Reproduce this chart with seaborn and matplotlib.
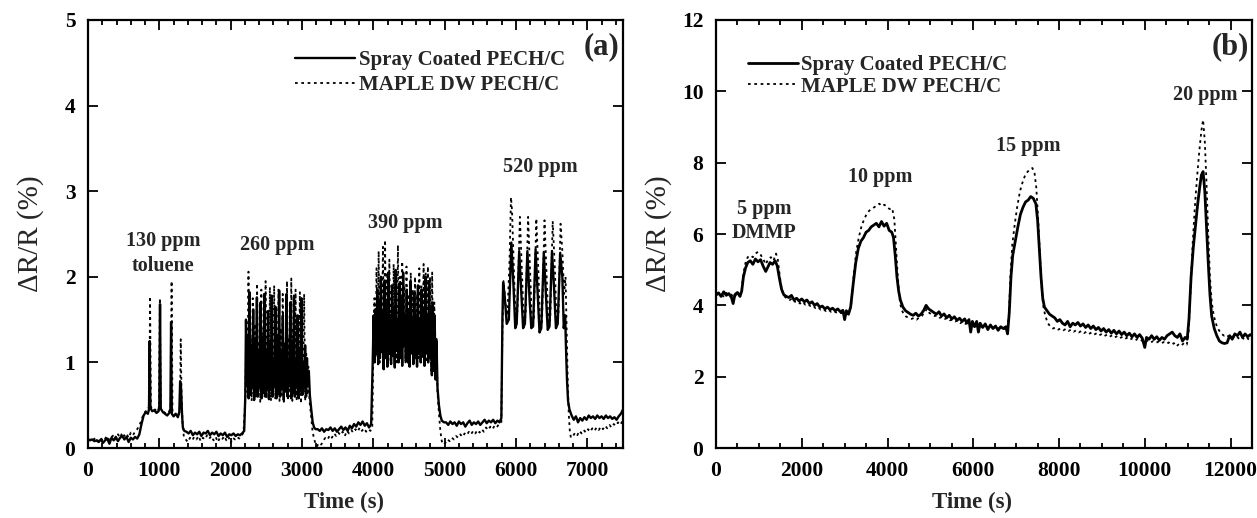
import matplotlib
matplotlib.use("Agg")
import matplotlib.pyplot as plt
import seaborn as sns
import pandas as pd
from matplotlib.ticker import MultipleLocator

# ---------------- Panel (a): toluene ----------------
spray_a = [
    (0,0.10),(30,0.09),(60,0.10),(90,0.08),(120,0.09),(150,0.07),(180,0.10),(210,0.06),(240,0.09),(270,0.11),
    (300,0.05),(330,0.12),(360,0.09),(390,0.13),(420,0.08),(450,0.12),(480,0.14),(510,0.10),(540,0.13),(570,0.07),
    (600,0.12),(630,0.10),(660,0.13),(690,0.11),(720,0.16),
    (750,0.28),(780,0.38),(810,0.42),(840,0.40),(855,0.45),(865,1.25),(875,0.47),(900,0.43),(930,0.44),(960,0.41),
    (990,0.43),(1000,0.50),(1010,1.68),(1020,0.46),(1050,0.42),(1080,0.40),(1110,0.38),(1140,0.41),(1155,0.45),
    (1165,1.47),(1175,0.40),(1200,0.37),(1230,0.40),(1260,0.36),(1280,0.42),(1292,0.78),(1305,0.70),(1318,0.40),
    (1330,0.24),(1350,0.20),
    (1380,0.19),(1410,0.17),(1440,0.20),(1470,0.15),(1500,0.18),(1530,0.16),(1560,0.19),(1590,0.14),(1620,0.18),
    (1650,0.17),(1680,0.20),(1710,0.15),(1740,0.18),(1770,0.16),(1800,0.19),(1830,0.14),(1860,0.17),(1890,0.15),
    (1920,0.18),(1950,0.13),(1980,0.16),(2010,0.15),(2040,0.17),(2070,0.14),(2100,0.16),(2130,0.15),(2160,0.17),
    (2190,0.20),
    (2205,0.60),(2215,1.50),(2228,0.75),(2240,1.30),(2252,0.58),(2265,1.82),(2278,0.62),(2290,1.20),(2303,0.70),
    (2316,1.62),(2329,0.56),(2342,1.28),(2355,0.66),(2368,1.76),(2381,0.60),(2394,1.10),(2407,0.72),(2420,1.70),
    (2433,0.58),(2446,1.30),(2459,0.64),(2472,1.80),(2485,0.60),(2498,1.15),(2511,0.70),(2524,1.60),(2537,0.57),
    (2550,1.25),(2563,0.68),(2576,1.78),(2589,0.60),(2602,1.05),(2615,0.72),(2628,1.65),(2641,0.58),(2654,1.30),
    (2667,0.63),(2680,1.84),(2693,0.60),(2706,1.10),(2719,0.70),(2732,1.55),(2745,0.56),(2758,1.20),(2771,0.66),
    (2784,1.80),(2797,0.60),(2810,1.00),(2823,0.72),(2836,1.70),(2849,0.58),(2862,1.25),(2875,0.64),(2888,1.78),
    (2901,0.60),(2914,1.05),(2927,0.70),(2940,1.55),(2953,0.58),(2966,1.15),(2979,0.66),(2992,1.75),(3005,0.62),
    (3018,1.00),(3031,0.70),(3044,1.20),(3057,0.60),(3070,1.05),(3083,0.75),(3096,0.90),(3110,0.62),(3130,0.45),
    (3150,0.30),(3170,0.24),(3190,0.22),
    (3220,0.22),(3250,0.20),(3280,0.23),(3310,0.19),(3340,0.22),(3370,0.21),(3400,0.24),(3430,0.20),(3460,0.23),
    (3490,0.19),(3520,0.22),(3550,0.25),(3580,0.21),(3610,0.24),(3640,0.20),(3670,0.26),(3700,0.23),(3730,0.28),
    (3760,0.25),(3790,0.30),(3820,0.27),(3850,0.31),(3880,0.26),(3910,0.29),(3940,0.24),(3970,0.28),
    (3990,0.95),(4005,1.55),(4018,1.00),(4030,1.62),(4042,1.10),(4055,1.85),(4068,0.98),(4080,1.70),(4093,1.05),
    (4106,2.00),(4119,1.12),(4132,1.60),(4145,0.92),(4158,1.95),(4171,1.05),(4184,1.70),(4197,0.95),(4210,2.05),
    (4223,1.10),(4236,1.55),(4249,0.98),(4262,1.90),(4275,1.08),(4288,1.65),(4301,0.94),(4314,2.08),(4327,1.15),
    (4340,1.50),(4353,1.00),(4366,1.92),(4379,1.05),(4392,1.75),(4405,0.96),(4418,2.05),(4431,1.20),(4444,1.55),
    (4457,1.02),(4470,1.85),(4483,1.00),(4496,1.60),(4509,0.95),(4522,1.95),(4535,1.12),(4548,1.50),(4561,0.98),
    (4574,1.80),(4587,1.05),(4600,1.55),(4613,0.95),(4626,1.90),(4639,1.10),(4652,1.48),(4665,1.00),(4678,1.85),
    (4691,1.08),(4704,1.60),(4717,0.96),(4730,2.00),(4743,1.12),(4756,1.55),(4769,1.00),(4782,1.95),(4795,1.05),
    (4808,1.65),(4821,0.85),(4834,1.70),(4847,0.90),(4860,1.55),(4873,0.80),(4886,1.25),(4900,0.70),(4920,0.50),
    (4940,0.38),(4960,0.32),(4990,0.30),
    (5020,0.30),(5050,0.27),(5080,0.31),(5110,0.28),(5140,0.30),(5170,0.26),(5200,0.31),(5230,0.28),(5260,0.30),
    (5290,0.25),(5320,0.29),(5350,0.32),(5380,0.27),(5410,0.30),(5440,0.28),(5470,0.31),(5500,0.27),(5530,0.30),
    (5560,0.33),(5590,0.29),(5620,0.32),(5650,0.30),(5680,0.33),(5710,0.29),(5740,0.32),(5770,0.30),(5795,0.35),
    (5810,1.50),(5820,1.93),(5840,1.80),(5870,1.45),(5900,1.50),(5935,2.40),(5965,1.90),(5990,1.40),(6010,1.45),
    (6045,2.30),(6075,1.80),(6100,1.40),(6125,1.45),(6160,2.30),(6190,1.75),(6215,1.40),(6240,1.42),(6275,2.32),
    (6305,1.80),(6330,1.35),(6355,1.40),(6390,2.28),(6420,1.80),(6445,1.38),(6470,1.42),(6505,2.30),(6535,1.85),
    (6560,1.40),(6585,1.45),(6620,2.28),(6650,2.00),(6670,1.40),(6690,1.55),(6700,1.20),(6715,0.80),(6730,0.55),
    (6750,0.45),
    (6780,0.38),(6810,0.33),(6840,0.37),(6870,0.30),(6900,0.35),(6930,0.32),(6960,0.36),(6990,0.33),(7020,0.38),
    (7050,0.35),(7080,0.37),(7110,0.34),(7140,0.38),(7170,0.35),(7200,0.37),(7230,0.34),(7260,0.38),(7290,0.35),
    (7320,0.37),(7350,0.34),(7380,0.36),(7410,0.33),(7440,0.37),(7470,0.40),(7500,0.45),
]

maple_a = [
    (0,0.09),(30,0.10),(60,0.08),(90,0.11),(120,0.07),(150,0.10),(180,0.12),(210,0.08),(240,0.11),(270,0.14),
    (300,0.09),(330,0.13),(360,0.15),(390,0.10),(420,0.16),(450,0.12),(480,0.18),(510,0.14),(540,0.17),(570,0.12),
    (600,0.18),(630,0.15),(660,0.19),(690,0.22),(720,0.26),
    (750,0.33),(780,0.40),(810,0.43),(840,0.44),(860,0.50),(870,1.77),(882,0.48),(910,0.44),(940,0.45),(970,0.42),
    (995,0.46),(1008,1.75),(1020,0.45),(1050,0.43),(1080,0.41),(1110,0.40),(1140,0.43),(1160,0.48),(1172,1.95),
    (1185,0.42),(1210,0.38),(1240,0.41),(1270,0.39),(1290,0.45),(1300,1.27),(1312,0.60),(1325,0.30),(1345,0.12),
    (1370,0.10),(1400,0.07),(1430,0.12),(1460,0.09),(1490,0.13),(1520,0.10),(1550,0.14),(1580,0.08),(1610,0.12),
    (1640,0.10),(1670,0.15),(1700,0.11),(1730,0.14),(1760,0.09),(1790,0.13),(1820,0.07),(1850,0.12),(1880,0.10),
    (1910,0.14),(1940,0.09),(1970,0.13),(2000,0.06),(2030,0.12),(2060,0.10),(2090,0.13),(2120,0.11),(2150,0.14),
    (2180,0.18),
    (2205,0.55),(2220,1.40),(2235,0.65),(2250,2.06),(2265,0.70),(2280,1.30),(2295,0.55),(2310,1.75),(2325,0.62),
    (2340,1.45),(2355,0.58),(2370,1.92),(2385,0.66),(2400,1.25),(2415,0.54),(2430,1.85),(2445,0.60),(2460,1.40),
    (2475,0.70),(2490,1.95),(2505,0.58),(2520,1.30),(2535,0.62),(2550,1.88),(2565,0.55),(2580,1.35),(2595,0.66),
    (2610,1.90),(2625,0.57),(2640,1.20),(2655,0.68),(2670,1.85),(2685,0.55),(2700,1.40),(2715,0.62),(2730,1.80),
    (2745,0.54),(2760,1.25),(2775,0.65),(2790,1.95),(2805,0.58),(2820,1.30),(2835,0.60),(2850,1.98),(2865,0.55),
    (2880,1.40),(2895,0.66),(2910,1.85),(2925,0.57),(2940,1.20),(2955,0.62),(2970,1.82),(2985,0.52),(3000,1.30),
    (3015,0.60),(3030,1.80),(3045,0.55),(3060,1.10),(3075,0.62),(3090,0.95),(3105,0.55),(3125,0.40),(3145,0.22),
    (3165,0.12),
    (3190,0.05),(3210,0.02),(3240,0.06),(3270,0.04),(3300,0.09),(3330,0.12),(3360,0.10),(3390,0.15),(3420,0.12),
    (3450,0.17),(3480,0.14),(3510,0.18),(3540,0.15),(3570,0.19),(3600,0.14),(3630,0.20),(3660,0.17),(3690,0.21),
    (3720,0.18),(3750,0.22),(3780,0.19),(3810,0.24),(3840,0.20),(3870,0.23),(3900,0.19),(3930,0.22),(3960,0.20),
    (3985,0.24),
    (4000,1.10),(4015,1.75),(4030,1.05),(4045,2.10),(4060,1.15),(4075,2.30),(4090,1.00),(4105,1.90),(4120,1.20),
    (4135,2.35),(4150,1.05),(4165,2.43),(4180,1.10),(4195,2.05),(4210,1.00),(4225,2.20),(4240,1.15),(4255,1.85),
    (4270,1.05),(4285,2.15),(4300,1.20),(4315,1.95),(4330,1.00),(4345,2.37),(4360,1.10),(4375,2.00),(4390,1.08),
    (4405,2.18),(4420,1.15),(4435,1.90),(4450,1.00),(4465,2.12),(4480,1.20),(4495,1.80),(4510,1.05),(4525,2.05),
    (4540,1.10),(4555,1.85),(4570,1.00),(4585,2.00),(4600,1.15),(4615,1.80),(4630,1.05),(4645,2.10),(4660,1.20),
    (4675,1.90),(4690,1.05),(4705,2.15),(4720,1.10),(4735,2.05),(4750,1.00),(4765,2.12),(4780,1.15),(4795,2.00),
    (4810,0.90),(4825,2.05),(4840,0.95),(4855,1.70),(4870,0.85),(4885,1.30),(4900,0.65),(4920,0.40),(4940,0.20),
    (4960,0.08),
    (4980,0.04),(5010,0.06),(5040,0.10),(5070,0.08),(5100,0.12),(5130,0.10),(5160,0.14),(5190,0.12),(5220,0.16),
    (5250,0.13),(5280,0.17),(5310,0.15),(5340,0.19),(5370,0.16),(5400,0.20),(5430,0.17),(5460,0.21),(5490,0.18),
    (5520,0.22),(5550,0.19),(5580,0.24),(5610,0.21),(5640,0.25),(5670,0.22),(5700,0.26),(5730,0.24),(5760,0.28),
    (5795,0.30),
    (5810,1.40),(5825,1.95),(5850,1.70),(5880,1.55),(5910,2.20),(5930,2.93),(5945,2.77),(5970,2.10),(5995,1.50),
    (6020,1.60),(6055,2.70),(6085,2.00),(6110,1.45),(6135,1.55),(6170,2.70),(6200,2.00),(6225,1.45),(6250,1.50),
    (6285,2.68),(6315,2.05),(6340,1.40),(6365,1.48),(6400,2.66),(6430,2.00),(6455,1.45),(6480,1.50),(6515,2.65),
    (6545,2.10),(6570,1.45),(6595,1.55),(6625,2.62),(6650,2.30),(6675,1.80),(6695,2.00),(6710,1.40),(6725,0.80),
    (6740,0.40),(6755,0.20),(6770,0.12),
    (6800,0.14),(6830,0.18),(6860,0.15),(6890,0.20),(6920,0.17),(6950,0.21),(6980,0.18),(7010,0.22),(7040,0.19),
    (7070,0.23),(7100,0.20),(7130,0.24),(7160,0.21),(7190,0.25),(7220,0.22),(7250,0.26),(7280,0.23),(7310,0.27),
    (7340,0.24),(7370,0.28),(7400,0.26),(7430,0.30),(7460,0.27),(7490,0.31),
]

# ---------------- Panel (b): DMMP ----------------
spray_b = [
    (0,4.30),(60,4.35),(120,4.25),(180,4.38),(240,4.28),(300,4.33),(360,4.22),(400,4.05),(440,4.30),(500,4.36),
    (560,4.25),(600,4.40),(640,4.80),(690,5.05),(740,5.20),(800,5.25),(860,5.15),(920,5.30),(980,5.22),(1040,5.28),
    (1100,5.10),(1160,4.95),(1200,5.05),(1260,5.20),(1320,5.15),(1380,5.25),(1430,5.10),(1480,4.75),(1530,4.45),
    (1580,4.30),(1640,4.25),(1700,4.22),(1760,4.28),(1820,4.15),(1880,4.20),(1940,4.12),(2000,4.18),(2060,4.10),
    (2120,4.15),(2180,4.05),(2240,4.10),(2300,4.00),(2360,4.05),(2420,3.95),(2480,3.98),(2540,3.90),(2600,3.95),
    (2660,3.88),(2720,3.92),(2780,3.85),(2840,3.90),(2900,3.82),(2960,3.86),(3000,3.60),(3040,3.85),(3090,3.75),
    (3140,3.95),(3200,4.60),(3260,5.20),(3320,5.60),(3380,5.80),(3440,5.90),(3500,6.05),(3560,6.10),(3620,6.20),
    (3680,6.25),(3740,6.30),(3800,6.20),(3860,6.35),(3920,6.22),(3980,6.30),(4040,6.10),(4100,6.05),(4140,5.90),
    (4180,5.40),(4220,4.80),(4260,4.40),(4300,4.15),(4360,3.95),(4420,3.85),(4480,3.80),(4540,3.75),(4600,3.72),
    (4660,3.78),(4720,3.70),(4780,3.75),(4840,3.85),(4900,4.00),(4960,3.90),(5020,3.85),(5080,3.80),(5140,3.75),
    (5200,3.82),(5260,3.70),(5320,3.76),(5380,3.65),(5440,3.72),(5500,3.62),(5560,3.68),(5620,3.58),(5680,3.64),
    (5740,3.55),(5800,3.62),(5850,3.50),(5900,3.60),(5940,3.25),(5980,3.55),(6030,3.40),(6080,3.55),(6120,3.25),
    (6160,3.50),(6220,3.38),(6280,3.48),(6340,3.32),(6400,3.45),(6460,3.35),(6520,3.42),(6580,3.30),(6640,3.40),
    (6700,3.35),(6760,3.40),(6800,3.20),(6840,3.80),(6880,4.80),(6920,5.40),(6980,5.80),(7040,6.20),(7100,6.55),
    (7160,6.75),(7220,6.90),(7280,6.95),(7340,7.05),(7400,7.00),(7460,6.85),(7500,6.40),(7540,5.60),(7580,4.80),
    (7620,4.20),(7660,3.95),(7720,3.85),(7780,3.75),(7840,3.70),(7900,3.65),(7960,3.55),(8020,3.60),(8080,3.50),
    (8140,3.45),(8200,3.55),(8260,3.40),(8320,3.50),(8380,3.45),(8440,3.52),(8500,3.42),(8560,3.48),(8620,3.38),
    (8680,3.45),(8740,3.35),(8800,3.42),(8860,3.32),(8920,3.38),(8980,3.28),(9040,3.35),(9100,3.25),(9160,3.32),
    (9220,3.22),(9280,3.30),(9340,3.20),(9400,3.28),(9460,3.18),(9520,3.25),(9580,3.15),(9640,3.22),(9700,3.12),
    (9760,3.20),(9820,3.10),(9880,3.18),(9940,3.08),(10000,2.82),(10040,3.10),(10100,3.05),(10160,3.15),
    (10220,3.05),(10280,3.12),(10340,3.02),(10400,3.10),(10460,3.05),(10520,3.15),(10580,3.20),(10640,3.25),
    (10700,3.15),(10760,3.10),(10820,3.20),(10880,3.00),(10940,3.10),(10990,3.05),(11030,3.60),(11080,4.80),
    (11130,5.60),(11180,6.20),(11230,6.80),(11280,7.30),(11320,7.65),(11360,7.75),(11400,7.20),(11440,6.20),
    (11480,5.20),(11520,4.30),(11560,3.70),(11620,3.35),(11680,3.15),(11740,3.00),(11800,2.95),(11860,2.93),
    (11920,2.95),(11980,3.15),(12040,3.05),(12100,3.20),(12160,3.15),(12220,3.25),(12280,3.10),(12340,3.20),
    (12400,3.12),(12460,3.18),(12500,3.15),
]

maple_b = [
    (0,4.28),(60,4.32),(120,4.30),(180,4.25),(240,4.35),(300,4.28),(360,4.30),(420,4.20),(480,4.32),(540,4.28),
    (600,4.45),(640,4.90),(690,5.20),(740,5.35),(800,5.40),(860,5.35),(920,5.45),(980,5.50),(1040,5.42),(1100,5.30),
    (1160,5.15),(1220,5.30),(1280,5.35),(1340,5.25),(1400,5.45),(1440,5.30),(1490,4.80),(1540,4.40),(1600,4.25),
    (1660,4.18),(1720,4.15),(1780,4.20),(1840,4.10),(1900,4.12),(1960,4.05),(2020,4.10),(2080,4.02),(2140,4.05),
    (2200,3.98),(2260,4.00),(2320,3.92),(2380,3.95),(2440,3.88),(2500,3.90),(2560,3.84),(2620,3.88),(2680,3.82),
    (2740,3.85),(2800,3.80),(2860,3.82),(2920,3.78),(2980,3.80),(3040,3.75),(3100,3.78),(3150,4.00),(3210,4.80),
    (3270,5.50),(3330,5.90),(3390,6.20),(3450,6.40),(3510,6.55),(3570,6.65),(3630,6.70),(3690,6.75),(3750,6.80),
    (3810,6.85),(3870,6.78),(3930,6.82),(3990,6.75),(4050,6.70),(4110,6.72),(4160,6.40),(4200,5.60),(4240,4.80),
    (4280,4.20),(4320,3.90),(4380,3.75),(4440,3.68),(4500,3.65),(4560,3.62),(4620,3.65),(4680,3.60),(4740,3.66),
    (4800,3.70),(4860,3.80),(4920,3.90),(4980,3.78),(5040,3.75),(5100,3.70),(5160,3.72),(5220,3.65),(5280,3.68),
    (5340,3.62),(5400,3.65),(5460,3.58),(5520,3.60),(5580,3.55),(5640,3.58),(5700,3.50),(5760,3.55),(5820,3.48),
    (5880,3.52),(5940,3.45),(6000,3.48),(6060,3.42),(6120,3.45),(6180,3.40),(6240,3.42),(6300,3.38),(6360,3.40),
    (6420,3.35),(6480,3.38),(6540,3.33),(6600,3.36),(6660,3.32),(6720,3.35),(6790,3.30),(6830,3.70),(6870,4.90),
    (6910,5.70),(6970,6.30),(7030,6.80),(7090,7.20),(7150,7.45),(7210,7.65),(7270,7.75),(7330,7.82),(7380,7.85),
    (7430,7.70),(7470,7.30),(7510,6.50),(7550,5.50),(7590,4.60),(7630,4.00),(7680,3.70),(7740,3.50),(7800,3.40),
    (7860,3.35),(7920,3.38),(7980,3.32),(8040,3.35),(8100,3.30),(8160,3.34),(8220,3.28),(8280,3.32),(8340,3.26),
    (8400,3.30),(8460,3.24),(8520,3.28),(8580,3.22),(8640,3.26),(8700,3.20),(8760,3.24),(8820,3.18),(8880,3.22),
    (8940,3.16),(9000,3.20),(9060,3.14),(9120,3.18),(9180,3.12),(9240,3.16),(9300,3.10),(9360,3.14),(9420,3.08),
    (9480,3.12),(9540,3.06),(9600,3.10),(9660,3.04),(9720,3.08),(9780,3.02),(9840,3.06),(9900,3.00),(9960,3.04),
    (10020,2.98),(10080,3.02),(10140,2.96),(10200,3.00),(10260,2.95),(10320,2.98),(10380,2.93),(10440,2.97),
    (10500,2.92),(10560,2.96),(10620,2.90),(10680,2.94),(10740,2.85),(10800,2.92),(10860,2.88),(10920,2.95),
    (10980,2.90),(11020,3.20),(11070,4.50),(11120,5.80),(11170,6.80),(11220,7.60),(11270,8.30),(11320,8.90),
    (11360,9.20),(11400,8.60),(11440,7.40),(11480,6.00),(11520,4.80),(11560,4.10),(11610,3.70),(11670,3.45),
    (11730,3.30),(11790,3.20),(11850,3.15),(11910,3.18),(11970,3.10),(12030,3.15),(12090,3.08),(12150,3.12),
    (12210,3.05),(12270,3.10),(12330,3.03),(12390,3.08),(12450,3.02),(12500,3.05),
]

series_names = ["Spray Coated PECH/C", "MAPLE DW PECH/C"]

labels_a = [("130 ppm\ntoluene", 1050, 2.27), ("260 ppm", 2650, 2.37),
            ("390 ppm", 4445, 2.63), ("520 ppm", 6340, 3.28)]
labels_b = [("5 ppm\nDMMP", 1120, 6.37), ("10 ppm", 3830, 7.60),
            ("15 ppm", 7290, 8.47), ("20 ppm", 11400, 9.90)]

x_ticks_a = [0, 1000, 2000, 3000, 4000, 5000, 6000, 7000]
y_ticks_a = [0, 1, 2, 3, 4, 5]
x_ticks_b = [0, 2000, 4000, 6000, 8000, 10000, 12000]
y_ticks_b = [0, 2, 4, 6, 8, 10, 12]

# ---------------- Styling ----------------
sns.set_theme(style="ticks")
plt.rcParams['font.family'] = ['Liberation Serif', 'DejaVu Serif']
plt.rcParams['axes.linewidth'] = 1.5

fig = plt.figure(figsize=(12.57, 5.18), dpi=100)
ax1 = fig.add_axes([0.0700, 0.1351, 0.4256, 0.8263])
ax2 = fig.add_axes([0.5696, 0.1351, 0.4264, 0.8263])


def to_df(pairs, name):
    t, v = zip(*pairs)
    return pd.DataFrame({"t": t, "v": v, "series": name})


def draw(ax, spray, maple, xlim, ylim, xt, yt, xminor, labels, panel,
         leg_x, leg_y, hl, lw_solid, lsp):
    d1 = to_df(spray, series_names[0])
    d2 = to_df(maple, series_names[1])
    sns.lineplot(data=d2, x="t", y="v", ax=ax, color="black", lw=1.3,
                 linestyle=(0, (1.5, 2.0)), estimator=None, sort=False,
                 label=series_names[1])
    sns.lineplot(data=d1, x="t", y="v", ax=ax, color="black", lw=lw_solid,
                 estimator=None, sort=False, label=series_names[0])
    ax.set_xlim(*xlim)
    ax.set_ylim(*ylim)
    ax.set_xticks(xt)
    ax.set_yticks(yt)
    ax.xaxis.set_minor_locator(MultipleLocator(xminor))
    ax.tick_params(which="both", direction="in", top=True, right=True,
                   width=1.3, colors="black")
    ax.tick_params(which="major", length=7, labelsize=15.5, pad=9)
    ax.tick_params(which="minor", length=3.5)
    ax.tick_params(axis="y", which="minor", left=False, right=False)
    for lab in ax.get_xticklabels() + ax.get_yticklabels():
        lab.set_fontweight("bold")
    for s in ax.spines.values():
        s.set_visible(True)
        s.set_color("black")
        s.set_linewidth(1.6)
    ax.set_xlabel("Time (s)", fontsize=16.5, fontweight="bold")
    ax.set_ylabel("ΔR/R (%)", fontsize=21)
    ax.xaxis.set_label_coords(0.478, -0.102)
    ax.yaxis.set_label_coords(-0.082, 0.5)
    for txt, x, y in labels:
        ax.text(x, y, txt, ha="center", va="center", fontsize=14.5,
                fontweight="bold", linespacing=1.3)
    ax.text(0.96, 0.937, panel, transform=ax.transAxes, ha="center",
            va="center", fontsize=22, fontweight="bold")
    h, l = ax.get_legend_handles_labels()
    ax.legend([h[1], h[0]], [l[1], l[0]], loc="upper left",
              bbox_to_anchor=(leg_x, leg_y), frameon=False,
              borderpad=0, borderaxespad=0, handletextpad=0.15,
              handlelength=hl, labelspacing=lsp,
              prop={"size": 15, "weight": "bold"})
    return ax


draw(ax1, spray_a, maple_a, (0, 7500), (0, 5), x_ticks_a, y_ticks_a, 200,
     labels_a, "(a)", 0.387, 0.93, 2.9, 1.7, 0.25)
draw(ax2, spray_b, maple_b, (0, 12500), (0, 12), x_ticks_b, y_ticks_b, 500,
     labels_b, "(b)", 0.06, 0.918, 2.4, 2.0, 0.08)

fig.savefig("out.png", dpi=100)
